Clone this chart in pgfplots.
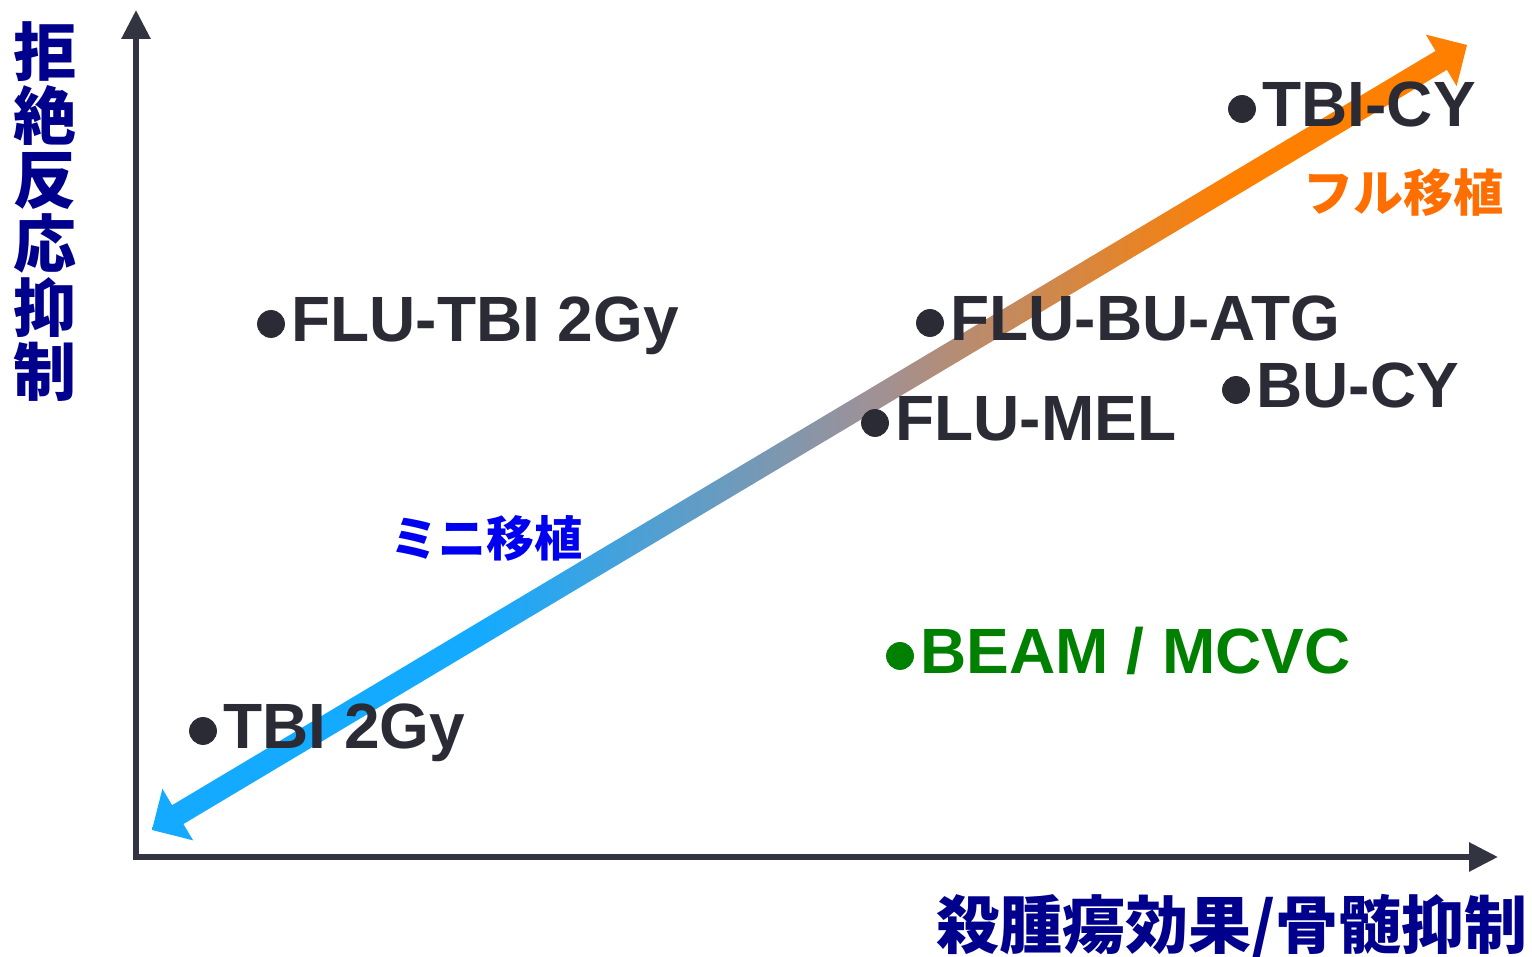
\documentclass[border=0pt]{standalone}
\usepackage{pgfplots}
\pgfplotsset{compat=1.18}
\usepackage{fontspec}
\setmainfont{Liberation Sans}
\newfontfamily\cjk{Noto Sans CJK JP}
\usetikzlibrary{arrows.meta}
\definecolor{axisc}{RGB}{50,52,66}
\definecolor{textc}{RGB}{43,43,54}
\definecolor{navyc}{RGB}{0,0,140}
\definecolor{ablue}{RGB}{20,170,255}
\definecolor{amid}{RGB}{160,145,150}
\definecolor{aorange}{RGB}{255,127,0}
\definecolor{forange}{RGB}{255,110,0}
\definecolor{mblue}{RGB}{0,0,240}
\definecolor{greenc}{RGB}{0,128,0}
\pgfdeclarehorizontalshading{arrowgrad}{100bp}{color(0bp)=(ablue); color(37.5bp)=(ablue); color(52.5bp)=(amid); color(66bp)=(aorange); color(100bp)=(aorange)}
\begin{document}
\begin{tikzpicture}
\begin{axis}[hide axis, scale only axis, width=766pt, height=478.5pt,
  xmin=-136, xmax=1396, ymin=-100, ymax=857, clip=false]
\coordinate (LL) at (axis cs:-136,-100);
\coordinate (UR) at (axis cs:1396,857);
% gradient double arrow
\shade[shading=arrowgrad] (axis cs:16,27) -- (axis cs:57.14,16.62) -- (axis cs:47.40,32.94)
  -- (axis cs:1310.88,787.18) -- (axis cs:1320.62,770.86) -- (axis cs:1331,812)
  -- (axis cs:1289.86,822.38) -- (axis cs:1299.60,806.06) -- (axis cs:36.12,51.82)
  -- (axis cs:26.38,68.14) -- cycle;
% axes
\draw[axisc, line width=3pt, {Triangle[length=14.5pt,width=14pt]}-{Triangle[length=14.5pt,width=14pt]}]
  (axis cs:0,847) -- (axis cs:0,0) -- (axis cs:1362,0);
% points
\addplot[only marks, mark=*, mark size=6.75pt, color=textc] coordinates {
  (1106,748) (135,533) (794,534) (1100,467) (739,434) (67,126)};
\addplot[only marks, mark=*, mark size=6.75pt, color=greenc] coordinates {(764,201)};
% labels
\begin{scope}[every node/.style={inner sep=0pt, anchor=base west, font=\bfseries\fontsize{32}{36}\selectfont, text=textc}]
\node at (axis cs:1126,730) {TBI-CY};
\node at (axis cs:155,515) {FLU-TBI 2Gy};
\node at (axis cs:814,516) {FLU-BU-ATG};
\node at (axis cs:1120,449) {BU-CY};
\node at (axis cs:759,416) {FLU-MEL};
\node at (axis cs:87,108) {TBI 2Gy};
\node[text=greenc] at (axis cs:784,183) {BEAM / MCVC};
\end{scope}
\node[inner sep=0pt, align=center, text=navyc, font=\cjk\bfseries\fontsize{31.5}{32}\selectfont] at (axis cs:-91,645) {拒\\絶\\反\\応\\抑\\制};
\node[inner sep=0pt, anchor=east, text=navyc, font=\cjk\bfseries\fontsize{31.5}{36}\selectfont] at (axis cs:1392,-70) {殺腫瘍効果/骨髄抑制};
\node[inner sep=0pt, text=mblue, font=\cjk\bfseries\fontsize{24}{28}\selectfont] at (axis cs:350,319) {ミニ移植};
\node[inner sep=0pt, text=forange, font=\cjk\bfseries\fontsize{25}{28}\selectfont] at (axis cs:1267,664) {フル移植};
\end{axis}
\pgfresetboundingbox
\path (LL) rectangle (UR);
\end{tikzpicture}
\end{document}
